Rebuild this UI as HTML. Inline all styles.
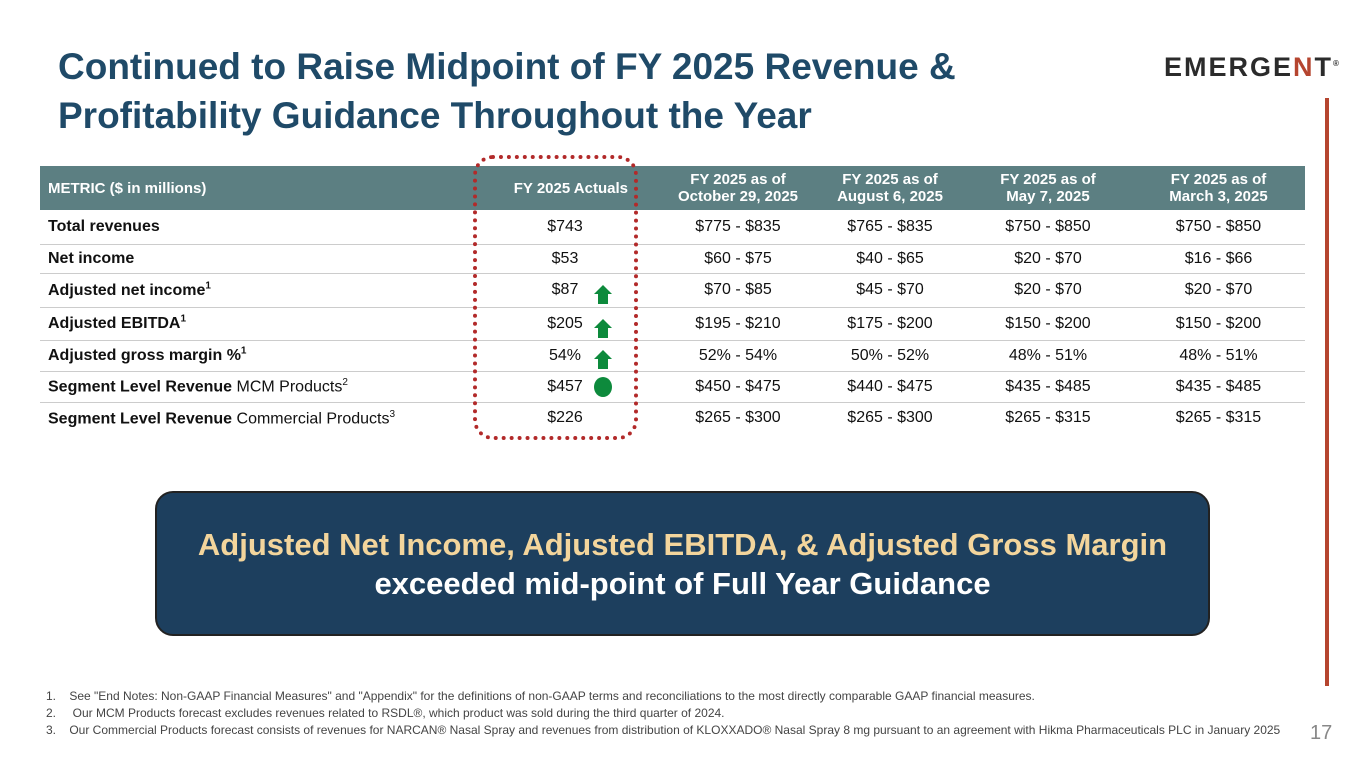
<!DOCTYPE html>
<html><head><meta charset="utf-8"><style>
body{margin:0;width:1365px;height:768px;background:#fff;position:relative;overflow:hidden;font-family:"Liberation Sans",sans-serif;}
.t{position:absolute;left:58px;top:42px;color:#1f4a68;font-size:37px;font-weight:bold;line-height:49px;}
.logo{position:absolute;left:1164px;top:52px;font-size:27px;font-weight:bold;letter-spacing:2px;color:#2b2b2b;}
.logo span{color:#b5452f}
.vl{position:absolute;left:1325px;top:98px;width:4px;height:588px;background:#b5452f;}
table{position:absolute;left:40px;top:166px;width:1265px;border-collapse:collapse;font-size:16px;color:#111;table-layout:fixed;}
th{background:#5c7f82;color:#fff;font-size:15px;height:44px;padding:0;line-height:17px;font-weight:bold;}
td{border-bottom:1px solid #ccc;text-align:center;padding:0;}
td:first-child{text-align:left;padding-left:8px;}
th:first-child{text-align:left;padding-left:8px;}
.ar{display:inline-block;width:0;height:0;border-left:9px solid transparent;border-right:9px solid transparent;border-bottom:9px solid #0d8a3c;position:relative;vertical-align:middle}
.ar:after{content:"";position:absolute;left:-5px;top:9px;width:10px;height:10px;background:#0d8a3c}
.ico{position:absolute;left:594px;}
.dots{position:absolute;left:473px;top:155px;width:165px;height:285px;border:4px dotted #b22a2a;border-radius:20px;box-sizing:border-box;}
.box{position:absolute;left:155px;top:491px;width:1055px;height:145px;background:#1d3f5e;border:2px solid #222;border-radius:18px;box-sizing:border-box;text-align:center;font-weight:bold;font-size:31px;line-height:39px;padding-top:32px;}
.fn{position:absolute;left:46px;top:688px;font-size:12px;color:#444;line-height:17px;}
.pn{position:absolute;left:1310px;top:722px;font-size:20px;color:#888;}
</style></head><body>
<div class="t">Continued to Raise Midpoint of FY 2025 Revenue &amp;<br>Profitability Guidance Throughout the Year</div>
<div class="logo">EMERGE<span>N</span>T<sup style="font-size:8px">®</sup></div>
<div class="vl"></div>
<table>
<colgroup><col style="width:430px"><col style="width:190px"><col style="width:156px"><col style="width:148px"><col style="width:168px"><col style="width:173px"></colgroup>
<tr><th>METRIC ($ in millions)</th><th style="text-align:right;padding-right:32px">FY 2025 Actuals</th><th>FY 2025 as of<br>October 29, 2025</th><th>FY 2025 as of<br>August 6, 2025</th><th>FY 2025 as of<br>May 7, 2025</th><th>FY 2025 as of<br>March 3, 2025</th></tr>
<tr style="height:34px"><td><b>Total revenues</b></td><td>$743</td><td>$775 - $835</td><td>$765 - $835</td><td>$750 - $850</td><td>$750 - $850</td></tr>
<tr style="height:29px"><td><b>Net income</b></td><td>$53</td><td>$60 - $75</td><td>$40 - $65</td><td>$20 - $70</td><td>$16 - $66</td></tr>
<tr style="height:34px"><td><b>Adjusted net income<sup style="font-size:10px">1</sup></b></td><td>$87</td><td>$70 - $85</td><td>$45 - $70</td><td>$20 - $70</td><td>$20 - $70</td></tr>
<tr style="height:33px"><td><b>Adjusted EBITDA<sup style="font-size:10px">1</sup></b></td><td>$205</td><td>$195 - $210</td><td>$175 - $200</td><td>$150 - $200</td><td>$150 - $200</td></tr>
<tr style="height:31px"><td><b>Adjusted gross margin %<sup style="font-size:10px">1</sup></b></td><td>54%</td><td>52% - 54%</td><td>50% - 52%</td><td>48% - 51%</td><td>48% - 51%</td></tr>
<tr style="height:31px"><td><b>Segment Level Revenue</b> MCM Products<sup style="font-size:10px">2</sup></td><td>$457</td><td>$450 - $475</td><td>$440 - $475</td><td>$435 - $485</td><td>$435 - $485</td></tr>
<tr style="height:32px"><td style="border:none"><b>Segment Level Revenue</b> Commercial Products<sup style="font-size:10px">3</sup></td><td style="border:none">$226</td><td style="border:none">$265 - $300</td><td style="border:none">$265 - $300</td><td style="border:none">$265 - $315</td><td style="border:none">$265 - $315</td></tr>
</table>
<div class="ico" style="top:281px"><span class="ar"></span></div>
<div class="ico" style="top:315px"><span class="ar"></span></div>
<div class="ico" style="top:346px"><span class="ar"></span></div>
<div style="position:absolute;left:594px;top:377px;width:18px;height:20px;border-radius:50%;background:#0d8a3c"></div>
<div class="dots"></div>
<div class="box"><span style="color:#f3d59c">Adjusted Net Income, Adjusted EBITDA, &amp; Adjusted Gross Margin</span><br><span style="color:#fff">exceeded mid-point of Full Year Guidance</span></div>
<div class="fn">1.&nbsp;&nbsp;&nbsp; See "End Notes: Non-GAAP Financial Measures" and "Appendix" for the definitions of non-GAAP terms and reconciliations to the most directly comparable GAAP financial measures.<br>2.&nbsp;&nbsp;&nbsp;&nbsp; Our MCM Products forecast excludes revenues related to RSDL®, which product was sold during the third quarter of 2024.<br>3.&nbsp;&nbsp;&nbsp; Our Commercial Products forecast consists of revenues for NARCAN® Nasal Spray and revenues from distribution of KLOXXADO® Nasal Spray 8 mg pursuant to an agreement with Hikma Pharmaceuticals PLC in January 2025</div>
<div class="pn">17</div>
</body></html>
